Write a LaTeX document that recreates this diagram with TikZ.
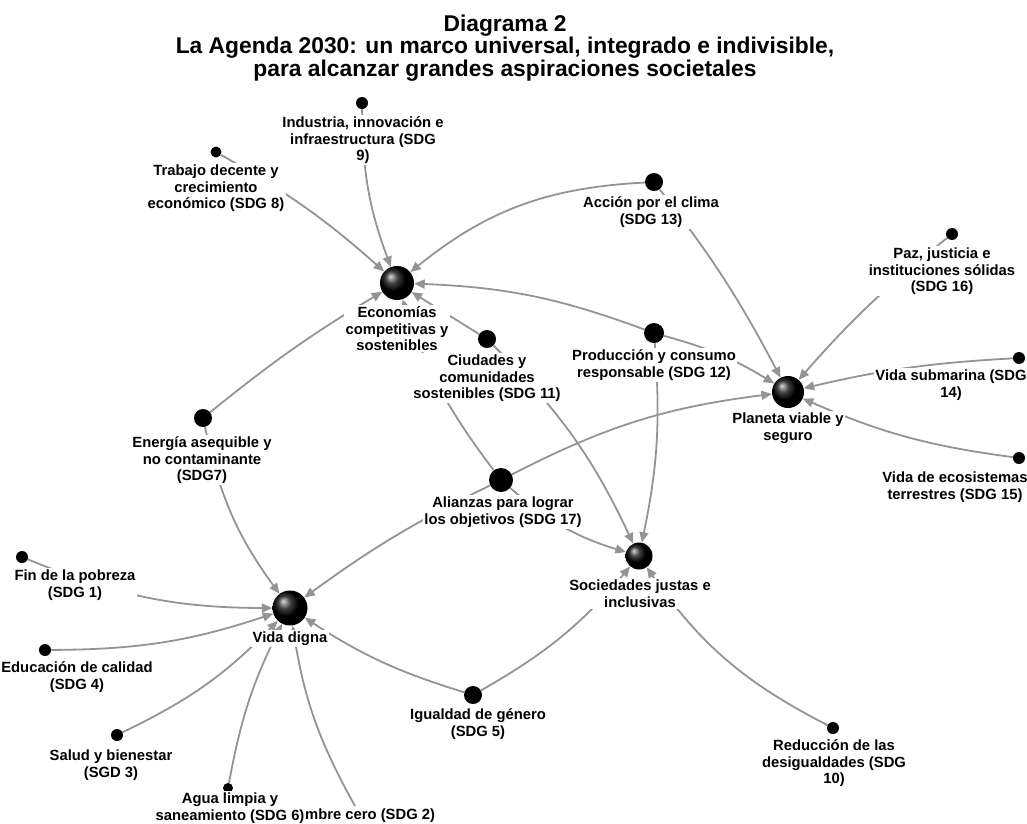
\documentclass[tikz,border=0pt]{standalone}
\usepackage{fontspec}
\setmainfont{Liberation Sans}
\usetikzlibrary{arrows.meta}
\pgfdeclarelayer{back}
\pgfdeclarelayer{bg}
\pgfsetlayers{back,bg,main}
\begin{document}
\begin{tikzpicture}[x=1pt,y=-1pt,
  lbl/.style={font=\bfseries\fontsize{14.8}{16.6}\selectfont, align=center, fill=white, inner sep=1.5pt, anchor=north},
  hub/.style={circle, shading=ball, ball color=black, inner sep=0pt},
  dot/.style={circle, fill=black, inner sep=0pt},
  edge/.style={draw=black!42, line width=1.8pt, -{Triangle[length=10.5pt,width=9pt]}},
]
\begin{pgfonlayer}{back}
\fill[white] (0,0) rectangle (1027,823);
\end{pgfonlayer}
\useasboundingbox (0,0) rectangle (1027,823);

\node[font=\bfseries\fontsize{22.8}{22.5}\selectfont, align=center, anchor=north, inner sep=0pt] (title) at (505,14.7) {Diagrama 2\\La Agenda 2030: un marco universal, integrado e indivisible,\\para alcanzar grandes aspiraciones societales};

% hubs
\node[hub, minimum size=34pt] (eco) at (397,283) {};
\node[hub, minimum size=32pt] (pla) at (788,392) {};
\node[hub, minimum size=35pt] (vid) at (290,608) {};
\node[hub, minimum size=27pt] (soc) at (639,556) {};
% dots
\node[dot, minimum size=12pt] (ind) at (362,103) {};
\node[dot, minimum size=11pt] (tra) at (216,152) {};
\node[dot, minimum size=18pt] (acc) at (654,182) {};
\node[dot, minimum size=12pt] (paz) at (952,234) {};
\node[dot, minimum size=18pt] (ciu) at (487,339) {};
\node[dot, minimum size=20pt] (pro) at (654,333) {};
\node[dot, minimum size=12pt] (sub) at (1019,358) {};
\node[dot, minimum size=18pt] (ene) at (203,418) {};
\node[dot, minimum size=24pt] (ali) at (501,480) {};
\node[dot, minimum size=12pt] (eso) at (1019,458) {};
\node[dot, minimum size=12pt] (fin) at (22,557) {};
\node[dot, minimum size=12pt] (edu) at (45,650) {};
\node[dot, minimum size=12pt] (sal) at (117,735) {};
\node[dot, minimum size=18pt] (igu) at (473,695) {};
\node[dot, minimum size=12pt] (red) at (833,728) {};
\node[dot, minimum size=10pt] (agu) at (228,788) {};
\coordinate (ham) at (355,806);

\begin{pgfonlayer}{bg}
\draw[edge] (ind) to[bend right=10] (eco);
\draw[edge] (tra) to[bend left=6] (eco);
\draw[edge] (acc) to[bend right=18] (eco);
\draw[edge] (pro) to[bend right=9] (eco);
\draw[edge] (ciu) to (eco);
\draw[edge] (ene) to[bend left=4] (eco);
\draw[edge] (ali) to[bend left=9] (eco);
\draw[edge] (acc) to[bend left=5] (pla);
\draw[edge] (pro) to[bend left=8] (pla);
\draw[edge] (paz) to[bend right=5] (pla);
\draw[edge] (sub) to[bend right=5] (pla);
\draw[edge] (eso) to[bend left=8] (pla);
\draw[edge] (ali) to[bend left=10] (pla);
\draw[edge] (ciu) to[bend left=10] (soc);
\draw[edge] (pro) to[bend left=8] (soc);
\draw[edge] (ali) to[bend right=12] (soc);
\draw[edge] (igu) to[bend right=10] (soc);
\draw[edge] (red) to[bend left=14] (soc);
\draw[edge] (ene) to[bend right=12] (vid);
\draw[edge] (ali) to[bend right=5] (vid);
\draw[edge] (fin) to[bend right=11] (vid);
\draw[edge] (edu) to[bend right=9] (vid);
\draw[edge] (sal) to[bend right=10] (vid);
\draw[edge] (agu) to[bend left=8] (vid);
\draw[edge] (ham) to[bend left=10] (vid);
\draw[edge] (igu) to[bend left=8] (vid);
\end{pgfonlayer}

% labels
\node[lbl] (lind) at (363,115) {Industria, innovación e\\infraestructura (SDG\\9)};
\node[lbl] (ltra) at (216,163) {Trabajo decente y\\crecimiento\\económico (SDG 8)};
\node[lbl] (lacc) at (651,195) {Acción por el clima\\(SDG 13)};
\node[lbl] (lpaz) at (942,246) {Paz, justicia e\\instituciones sólidas\\(SDG 16)};
\node[lbl] (leco) at (397,305) {Economías\\competitivas y\\sostenibles};
\node[lbl] (lciu) at (487,353) {Ciudades y\\comunidades\\sostenibles (SDG 11)};
\node[lbl] (lpro) at (654,348) {Producción y consumo\\responsable (SDG 12)};
\node[lbl] (lsub) at (951,368) {Vida submarina (SDG\\14)};
\node[lbl] (lpla) at (788,411) {Planeta viable y\\seguro};
\node[lbl] (lene) at (202,435) {Energía asequible y\\no contaminante\\(SDG7)};
\node[lbl] (lali) at (503,495) {Alianzas para lograr\\los objetivos (SDG 17)};
\node[lbl] (leso) at (955,470) {Vida de ecosistemas\\terrestres (SDG 15)};
\node[lbl] (lfin) at (75,568) {Fin de la pobreza\\(SDG 1)};
\node[lbl] (lsoc) at (640,578) {Sociedades justas e\\inclusivas};
\node[lbl] (lvid) at (290,630) {Vida digna};
\node[lbl] (ledu) at (77,660) {Educación de calidad\\(SDG 4)};
\node[lbl] (ligu) at (478,707) {Igualdad de género\\(SDG 5)};
\node[lbl] (lsal) at (111,748) {Salud y bienestar\\(SGD 3)};
\node[lbl] (lred) at (834,738) {Reducción de las\\desigualdades (SDG\\10)};
\node[lbl, inner xsep=0.3pt] (lagu) at (230,791) {Agua limpia y\\saneamiento (SDG 6)};
\node[lbl, anchor=base west, inner sep=0pt] (lham) at (lagu.east |- 0,819.6) {mbre cero (SDG 2)};
\end{tikzpicture}
\end{document}
